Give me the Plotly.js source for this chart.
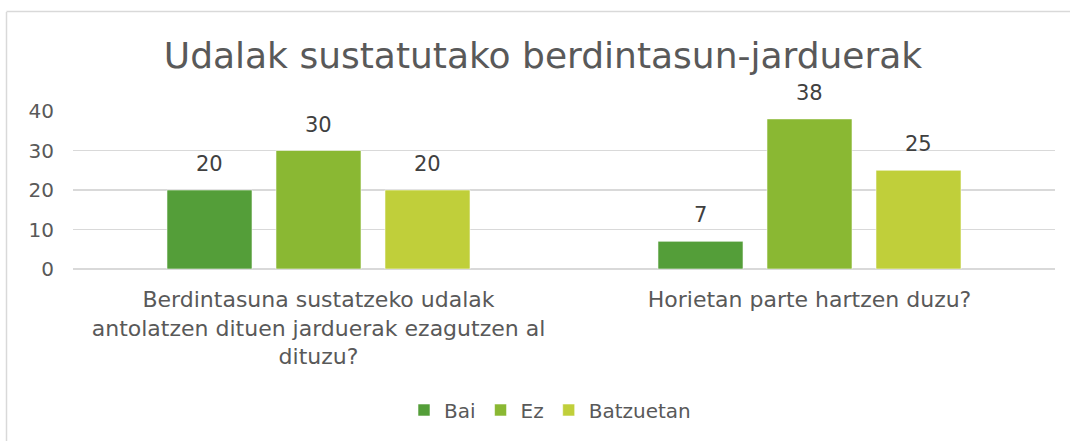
<!DOCTYPE html>
<html>
<head>
<meta charset="utf-8">
<script src="https://cdn.plot.ly/plotly-3.0.1.min.js"></script>
<style>html,body{margin:0;padding:0;background:#fff;}#chart{width:1070px;height:441px;}</style>
</head>
<body>
<div id="chart"></div>
<script>
var categories = [
  "Berdintasuna sustatzeko udalak<br>antolatzen dituen jarduerak ezagutzen al<br>dituzu?",
  "Horietan parte hartzen duzu?"
];
var seriesNames = ["Bai", "Ez", "Batzuetan"];
var bai = [20, 7];
var ez = [30, 38];
var batzuetan = [20, 25];
var yTicks = [0, 10, 20, 30, 40];

var colors = ["#549E39", "#8AB833", "#C0CF3A"];
var seriesValues = [bai, ez, batzuetan];
var FONT = "DejaVu Sans, sans-serif";

var W = 1070, H = 441;
var mL = 73, mR = 15, mT = 111, mB = 172;
var plotW = W - mL - mR, plotH = H - mT - mB;
var bargap = 0.334, bargroupgap = 0.22;

var traces = seriesValues.map(function (vals, i) {
  return {
    type: "bar",
    name: seriesNames[i],
    x: categories,
    y: vals,
    marker: {color: colors[i], line: {color: "rgba(255,255,255,0.55)", width: 1}},
    hoverinfo: "none"
  };
});

// data labels above bars, offset within group
var slotPx = (plotW / categories.length) * (1 - bargap) / seriesValues.length;
var annotations = [];
seriesValues.forEach(function (vals, i) {
  vals.forEach(function (v, j) {
    annotations.push({
      xref: "x", yref: "y", x: categories[j], y: v,
      text: String(v), showarrow: false,
      xshift: (i - (seriesValues.length - 1) / 2) * slotPx,
      yshift: 26, yanchor: "middle", xanchor: "center",
      font: {family: FONT, size: 21, color: "#404040"}
    });
  });
});

var toPaperX = function (px) { return (px - mL) / plotW; };
var toPaperY = function (py) { return (H - mB - py) / plotH; };

var layout = {
  width: W, height: H,
  margin: {l: mL, r: mR, t: mT, b: mB, pad: 0},
  paper_bgcolor: "#fff", plot_bgcolor: "#fff",
  title: {
    text: "Udalak sustatutako berdintasun-jarduerak",
    font: {family: FONT, size: 36, color: "#595959"},
    x: 543 / W, xanchor: "center", xref: "container",
    y: 1 - 55 / H, yanchor: "middle", yref: "container"
  },
  barmode: "group", bargap: bargap, bargroupgap: bargroupgap,
  xaxis: {
    type: "category",
    showgrid: false, zeroline: false, showline: false,
    ticks: "", ticklabelstandoff: 15,
    tickfont: {family: FONT, size: 22, color: "#595959"},
    fixedrange: true
  },
  yaxis: {
    range: [0, 40], tickvals: yTicks, ticktext: yTicks.map(String),
    showgrid: true, gridcolor: "#D9D9D9", gridwidth: 1.3,
    zeroline: true, zerolinecolor: "#D9D9D9", zerolinewidth: 1.3,
    showline: false, ticks: "", ticklabelstandoff: 18,
    tickfont: {family: FONT, size: 20, color: "#595959"},
    fixedrange: true
  },
  showlegend: true,
  legend: {
    orientation: "h", x: toPaperX(550), xanchor: "center",
    y: toPaperY(410), yanchor: "middle",
    font: {family: FONT, size: 20, color: "#595959"},
    itemwidth: 30, traceorder: "normal"
  },
  annotations: annotations,
  shapes: [
    {type: "line", xref: "paper", yref: "paper",
     x0: toPaperX(6.5), x1: toPaperX(6.5), y0: toPaperY(12), y1: toPaperY(460),
     line: {color: "#D9D9D9", width: 1.5}},
    {type: "line", xref: "paper", yref: "paper",
     x0: toPaperX(6.5), x1: toPaperX(1090), y0: toPaperY(11.5), y1: toPaperY(11.5),
     line: {color: "#D9D9D9", width: 1.5}}
  ]
};

Plotly.newPlot("chart", traces, layout, {displayModeBar: false, staticPlot: true});
</script>
</body>
</html>
